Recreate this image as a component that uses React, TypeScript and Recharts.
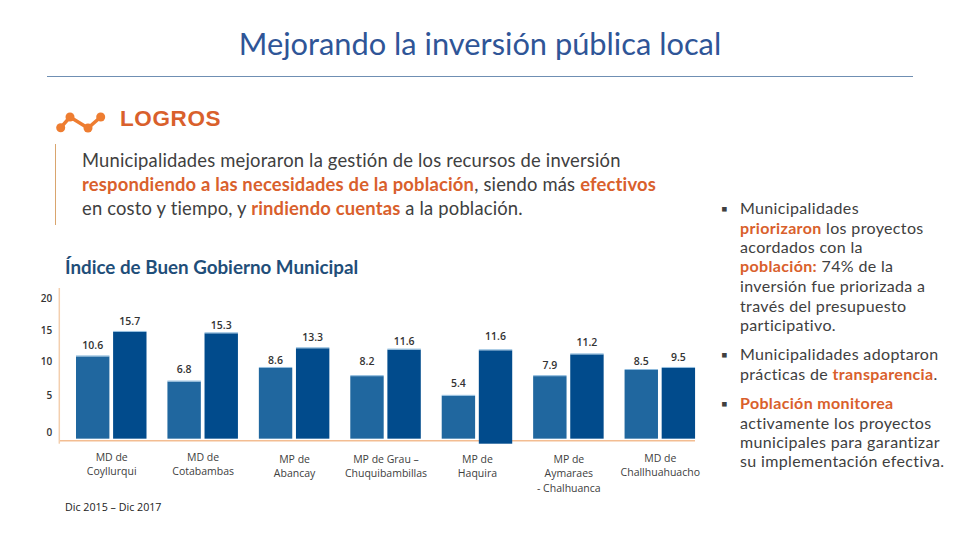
import React from 'react';
import { BarChart, Bar, XAxis, YAxis, LabelList, ReferenceLine } from 'recharts';

const categories = [
    'MD de\nCoyllurqui',
    'MD de\nCotabambas',
    'MP de\nAbancay',
    'MP de Grau –\nChuquibambillas',
    'MP de\nHaquira',
    'MP de\nAymaraes\n- Chalhuanca',
    'MD de\nChallhuahuacho',
];
// bar heights as drawn in the source slide, which do not follow the printed figures exactly
const drawn2015 = [12.1, 8.4, 10.4, 9.2, 6.3, 9.2, 10.1];
const drawn2017 = [15.7, 15.5, 13.3, 13.1, 13.0, 12.4, 10.4];
const start2017 = [0, 0, 0, 0, -0.74, 0, 0];
const printed2015 = ['10.6', '6.8', '8.6', '8.2', '5.4', '7.9', '8.5'];
const printed2017 = ['15.7', '15.3', '13.3', '11.6', '11.6', '11.2', '9.5'];
const yTicks = [0, 5, 10, 15, 20];

const chartData = categories.map((name, i) => ({
    name,
    a: drawn2015[i],
    b: [start2017[i], drawn2017[i]],
    labelA: printed2015[i],
    labelB: printed2017[i],
}));

const FONT = 'Lato, sans-serif';
const CHART_FONT = '"Open Sans", sans-serif';
const GREY = '#404040';
const ORANGE = '#d9602c';

// small hand nudges, the slide labels are not evenly placed
const gapA = [11, 13, 8, 15, 13, 11, 9];
const gapB = [11, 8, 11, 9, 14, 12, 11];
const yTickNudge: Record<number, number> = { 0: -6.7, 5: -9.7, 10: -9.7, 15: -6.7, 20: -4.7 };
const xTickNudge = [-1, -1, 1, 1, 1, 1, 0];

const BarShape = (props: any) => {
    const { x, y, width, height, fill } = props;
    return (
        <g>
            <rect x={x} y={y} width={width} height={height} fill={fill} />
            <rect x={x} y={y - 1} width={width} height={1} fill="#8fbbdd" />
        </g>
    );
};

const makeLabel = (gaps: number[]) => (props: any) => {
    const { x, y, width, value, index } = props;
    return (
        <text x={x + width / 2} y={y - gaps[index]} textAnchor="middle" dominantBaseline="central"
            fontFamily={CHART_FONT} fontSize={10.5} fontWeight={600} fill="#333">
            {value}
        </text>
    );
};

const CategoryTick = (props: any) => {
    const { x, y, payload, index } = props;
    const lines = String(payload.value).split('\n');
    return (
        <text textAnchor="middle" fontFamily={CHART_FONT} fontSize={10.5} fill={GREY}>
            {lines.map((line, i) => (
                <tspan key={i} x={x} y={y + 10 + (xTickNudge[index] || 0) + i * 14.4}>{line}</tspan>
            ))}
        </text>
    );
};

const ValueTick = (props: any) => {
    const { x, y, payload } = props;
    return (
        <text x={x + 1} y={y + yTickNudge[payload.value]} textAnchor="end" dominantBaseline="central"
            fontFamily={CHART_FONT} fontSize={10} fontWeight={600} fill="#333">
            {payload.value}
        </text>
    );
};

const Line = ({ x, y, size = 18.4, spacing = 0.18, children }: any) => (
    <div style={{
        position: 'absolute', left: x, top: y, transform: 'translateY(-50%)', whiteSpace: 'pre',
        fontSize: size, letterSpacing: spacing, color: GREY, lineHeight: 1,
    }}>
        {children}
    </div>
);

const Side = ({ y, children }: any) => <Line x={740} y={y - 0.5} size={16} spacing={0.35}>{children}</Line>;
const Bullet = ({ y }: any) => <Line x={721} y={y} size={17} spacing={0}>▪</Line>;
const Hot = ({ children }: any) => <b style={{ color: ORANGE }}>{children}</b>;

export default function App() {
    return (
        <div style={{ position: 'absolute', left: 0, top: 0, width: 960, height: 540, background: '#fff', fontFamily: FONT, overflow: 'hidden' }}>
            <BarChart width={960} height={540} data={chartData} barSize={33.4} barGap={3.7}
                margin={{ top: 288, right: 265, left: 0, bottom: 0 }}>
                <XAxis dataKey="name" interval={0} height={96.3} tickLine={false} tick={<CategoryTick />}
                    axisLine={false} padding={{ left: 6.7, right: -11 }} />
                <YAxis width={59.3} domain={[-0.74, 22.16]} ticks={yTicks} tickLine={false} tick={<ValueTick />}
                    axisLine={{ stroke: '#f3cfae', strokeWidth: 1.5 }} />
                <ReferenceLine y={-0.3} stroke="#f3bd92" strokeWidth={1.5} zIndex={100} />
                <Bar dataKey="a" fill="#20679f" isAnimationActive={false} shape={<BarShape />}>
                    <LabelList dataKey="labelA" content={makeLabel(gapA)} />
                </Bar>
                <Bar dataKey="b" fill="#014b8c" isAnimationActive={false} shape={<BarShape />}>
                    <LabelList dataKey="labelB" content={makeLabel(gapB)} />
                </Bar>
            </BarChart>

            <div style={{ position: 'absolute', left: 0, width: 960, top: 44, transform: 'translateY(-50%)', textAlign: 'center', fontSize: 30.8, color: '#2f5597', lineHeight: 1 }}>
                Mejorando la inversión pública local
            </div>
            <div style={{ position: 'absolute', left: 47, width: 866, top: 76, height: 1, background: '#6f8fb3' }} />

            <svg width={60} height={40} style={{ position: 'absolute', left: 50, top: 105 }}>
                <polyline points="10.7,22.7 20,12 38,23 50.7,12" fill="none" stroke="#ee7d31" strokeWidth={3.5} />
                <circle cx={10.7} cy={22.7} r={4.5} fill="#ee7d31" />
                <circle cx={20} cy={12} r={4.5} fill="#ee7d31" />
                <circle cx={38} cy={23} r={4.5} fill="#ee7d31" />
                <circle cx={50.7} cy={12} r={4.5} fill="#ee7d31" />
            </svg>
            <div style={{ position: 'absolute', left: 120, top: 118.5, transform: 'translateY(-50%)', fontFamily: '"Liberation Sans", sans-serif', fontWeight: 700, fontSize: 22.5, color: ORANGE, letterSpacing: 0.6, lineHeight: 1 }}>
                LOGROS
            </div>
            <div style={{ position: 'absolute', left: 55, top: 144, width: 1, height: 81, background: '#d9a56e' }} />

            <Line x={82} y={160}>Municipalidades mejoraron la gestión de los recursos de inversión</Line>
            <Line x={82} y={184}><Hot>respondiendo a las necesidades de la población</Hot>, siendo más <Hot>efectivos</Hot></Line>
            <Line x={82} y={208}>en costo y tiempo, y <Hot>rindiendo cuentas</Hot> a la población.</Line>

            <div style={{ position: 'absolute', left: 65, top: 267, transform: 'translateY(-50%)', fontSize: 18.8, fontWeight: 700, color: '#1f4e79', lineHeight: 1, whiteSpace: 'pre' }}>
                Índice de Buen Gobierno Municipal
            </div>
            <div style={{ position: 'absolute', left: 65, top: 507, transform: 'translateY(-50%)', fontFamily: CHART_FONT, fontSize: 10.7, color: '#222', lineHeight: 1, whiteSpace: 'pre' }}>
                Dic 2015 – Dic 2017
            </div>

            <Bullet y={208} />
            <Side y={208}>Municipalidades</Side>
            <Side y={228}><Hot>priorizaron</Hot> los proyectos</Side>
            <Side y={247}>acordados con la</Side>
            <Side y={266}><Hot>población:</Hot> 74% de la</Side>
            <Side y={286}>inversión fue priorizada a</Side>
            <Side y={306}>través del presupuesto</Side>
            <Side y={325}>participativo.</Side>

            <Bullet y={354} />
            <Side y={354}>Municipalidades adoptaron</Side>
            <Side y={374}>prácticas de <Hot>transparencia</Hot>.</Side>

            <Bullet y={403} />
            <Side y={403}><Hot>Población monitorea</Hot></Side>
            <Side y={423}>activamente los proyectos</Side>
            <Side y={442}>municipales para garantizar</Side>
            <Side y={461}>su implementación efectiva.</Side>
        </div>
    );
}
